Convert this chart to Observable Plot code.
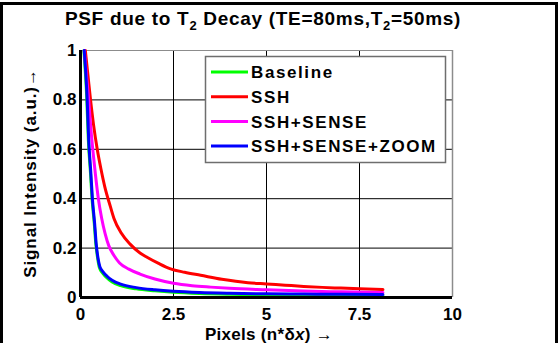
<!DOCTYPE html>
<html><head><meta charset="utf-8">
<script src="https://cdn.jsdelivr.net/npm/d3@7"></script>
<script src="https://cdn.jsdelivr.net/npm/@observablehq/plot@0.6"></script>
<style>body{margin:0;background:#fff} svg{display:block;background:#fff}</style>
</head><body><div id="chart"></div>
<script>
const seriesNames = ["Baseline", "SSH", "SSH+SENSE", "SSH+SENSE+ZOOM"];
const seriesColors = ["#00ff00", "#ff0000", "#ff00ff", "#0000ff"];

const baselineX = [0.09,0.17,0.21,0.27,0.31,0.37,0.41,0.46,0.51,0.6,0.72,0.85,1.08,1.5,2,2.5,3.2,4,5,6,7,8.13];
const baselineY = [1,0.8,0.64,0.5,0.4,0.3,0.22,0.16,0.12,0.098,0.078,0.063,0.048,0.035,0.027,0.021,0.016,0.013,0.011,0.009,0.008,0.007];

const sshX = [0.13,0.2,0.27,0.35,0.45,0.55,0.65,0.8,0.9,1.1,1.34,1.6,1.8,2.1,2.42,2.8,3.23,3.8,4.5,5,5.5,6,6.5,7,7.5,8.13];
const sshY = [1,0.9,0.8,0.7,0.6,0.52,0.45,0.37,0.32,0.26,0.215,0.18,0.162,0.138,0.116,0.102,0.09,0.074,0.06,0.055,0.05,0.045,0.041,0.038,0.035,0.032];

const senseX = [0.1,0.16,0.22,0.27,0.33,0.4,0.48,0.57,0.66,0.76,0.9,1.05,1.3,1.6,2,2.5,3,3.5,4,5,6,7,8.13];
const senseY = [1,0.9,0.8,0.7,0.6,0.5,0.4,0.32,0.26,0.21,0.17,0.14,0.115,0.095,0.075,0.058,0.048,0.042,0.037,0.031,0.026,0.023,0.02];

const zoomX = [0.1,0.18,0.22,0.28,0.32,0.38,0.42,0.47,0.52,0.6,0.72,0.85,1.08,1.5,2,2.5,3.2,4,5,6,7,8.13];
const zoomY = [1,0.8,0.64,0.5,0.4,0.3,0.22,0.16,0.125,0.105,0.085,0.07,0.054,0.04,0.031,0.025,0.02,0.017,0.015,0.014,0.013,0.012];

const xTicks = [0, 2.5, 5, 7.5, 10];
const yTicks = [0, 0.2, 0.4, 0.6, 0.8, 1];
const xTickLabels = ["0", "2.5", "5", "7.5", "10"];
const yTickLabels = ["0", "0.2", "0.4", "0.6", "0.8", "1"];

const allX = [baselineX, sshX, senseX, zoomX];
const allY = [baselineY, sshY, senseY, zoomY];
const rows = [];
seriesNames.forEach((name, i) => {
  allX[i].forEach((x, j) => rows.push({series: name, x, y: allY[i][j]}));
});

const W = 558, H = 343;
const FONT = "Liberation Sans, Arial, sans-serif";

const plot = Plot.plot({
  width: W, height: H,
  marginLeft: 80, marginRight: 106, marginTop: 50, marginBottom: 46,
  style: {fontFamily: FONT, fontSize: "17px", fontWeight: "bold", color: "#000", background: "#fff"},
  x: {domain: [0, 10], label: null},
  y: {domain: [0, 1], label: null},
  color: {domain: seriesNames, range: seriesColors},
  marks: [
    Plot.gridX(xTicks.slice(1, -1), {stroke: "#000", strokeOpacity: 1, strokeWidth: 1}),
    Plot.gridY(yTicks.slice(1, -1), {stroke: "#000", strokeOpacity: 1, strokeWidth: 1}),
    Plot.ruleY([1], {stroke: "#8c8c8c", strokeWidth: 1.2}),
    Plot.ruleX([10], {stroke: "#8c8c8c", strokeWidth: 1.5}),
    Plot.line(rows, {x: "x", y: "y", z: "series", stroke: "series", strokeWidth: 3, curve: "monotone-x"}),
    Plot.ruleX([0], {stroke: "#000", strokeWidth: 3}),
    Plot.ruleY([0], {stroke: "#000", strokeWidth: 3}),
    Plot.axisX({ticks: xTicks, tickFormat: d => xTickLabels[xTicks.indexOf(d)], tickSize: 0, tickPadding: 10, fontSize: 17}),
    Plot.axisY({ticks: yTicks, tickFormat: d => yTickLabels[yTicks.indexOf(d)], tickSize: 0, tickPadding: 4, fontSize: 17})
  ]
});

const svg = d3.select(plot);
// outer figure border
svg.append("path").attr("d", `M1.5,${H} V3.5 H${W-1.5} V${H}`).attr("fill", "none").attr("stroke", "#000").attr("stroke-width", 3);

// title
const title = svg.append("text").attr("x", 263).attr("y", 25).attr("text-anchor", "middle")
  .attr("font-family", FONT).attr("font-size", 19).attr("font-weight", "bold").attr("letter-spacing", 0.7);
title.append("tspan").text("PSF due to T");
title.append("tspan").attr("font-size", 13).attr("dy", 5).text("2");
title.append("tspan").attr("dy", -5).text(" Decay (TE=80ms,T");
title.append("tspan").attr("font-size", 13).attr("dy", 5).text("2");
title.append("tspan").attr("dy", -5).text("=50ms)");

// x label
const xl = svg.append("text").attr("x", 269).attr("y", 340).attr("text-anchor", "middle")
  .attr("font-family", FONT).attr("font-size", 17).attr("font-weight", "bold").attr("letter-spacing", 0.3);
xl.append("tspan").text("Pixels (n*δ");
xl.append("tspan").attr("font-style", "italic").text("x");
xl.append("tspan").text(") →");

// y label
svg.append("text").attr("transform", "translate(36,173) rotate(-90)").attr("text-anchor", "middle")
  .attr("font-family", FONT).attr("font-size", 17).attr("font-weight", "bold").attr("letter-spacing", 0.9)
  .text("Signal Intensity (a.u.)→");

// legend
const lg = svg.append("g");
lg.append("rect").attr("x", 205.5).attr("y", 56.5).attr("width", 240).attr("height", 106)
  .attr("fill", "#fff").attr("stroke", "#6e6e6e").attr("stroke-width", 1.5);
seriesNames.forEach((name, i) => {
  const yy = 72 + i * 24.7;
  lg.append("line").attr("x1", 211).attr("x2", 248).attr("y1", yy).attr("y2", yy)
    .attr("stroke", seriesColors[i]).attr("stroke-width", 3);
  lg.append("text").attr("x", 251).attr("y", yy).attr("dy", "0.36em").attr("text-anchor", "start")
    .attr("font-family", FONT).attr("font-size", 17).attr("font-weight", "bold").attr("letter-spacing", 1.6).text(name);
});

document.getElementById("chart").append(plot);
</script>
</body></html>
